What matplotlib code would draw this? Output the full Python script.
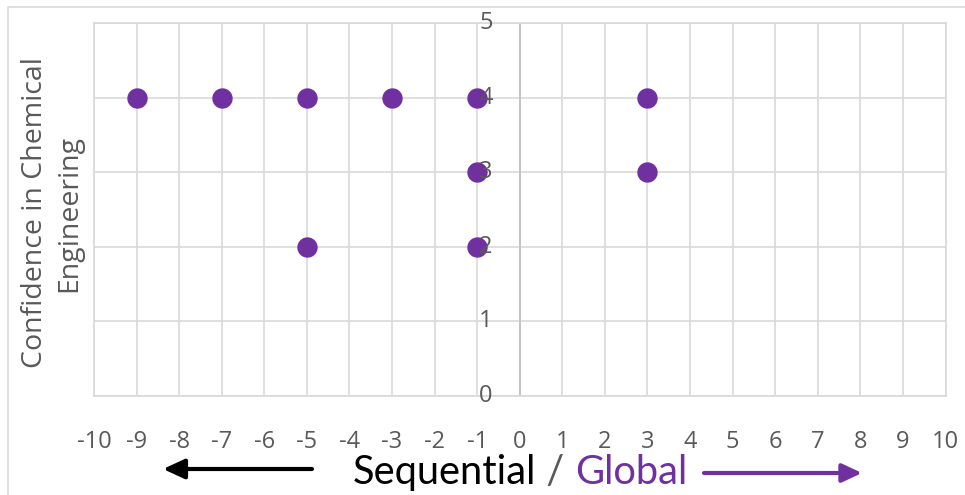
import matplotlib
matplotlib.use("Agg")
import matplotlib.pyplot as plt
from matplotlib.patches import FancyArrowPatch
from matplotlib.lines import Line2D

# --- DATA ---
x_pos = [-9, -7, -5, -3, -1, 3, -1, 3, -5, -1]
confidence = [4, 4, 4, 4, 4, 4, 3, 3, 2, 2]
x_ticks = list(range(-10, 11))
y_ticks = list(range(0, 6))

PURPLE = "#7030A0"
GRID = "#D9D9D9"
LABEL = "#595959"

plt.rcParams['font.family'] = ['Open Sans', 'DejaVu Sans']

fig = plt.figure(figsize=(9.65, 4.95), dpi=100)
ax = fig.add_axes([94 / 965, 1 - 395.5 / 495, 851.5 / 965, 372.5 / 495])

ax.scatter(x_pos, confidence, s=215, color=PURPLE, zorder=3, linewidths=0)

ax.set_xlim(-10, 10)
ax.set_ylim(0, 5)
ax.set_xticks(x_ticks)
ax.set_yticks(y_ticks)
ax.set_xticklabels([str(v) for v in x_ticks])
ax.tick_params(axis="x", length=0, pad=25, labelsize=17, labelcolor=LABEL)
ax.tick_params(axis="y", length=0, labelleft=False)
ax.grid(True, color=GRID, lw=1.2, zorder=0)
ax.set_axisbelow(True)
for sp in ax.spines.values():
    sp.set_color(GRID)
    sp.set_linewidth(1.2)
ax.axvline(0, color="#BFBFBF", lw=1.2, zorder=1)

# y labels sit on the vertical axis at x = 0, above the markers
for v in y_ticks:
    ax.annotate(str(v), xy=(0, v), xytext=(-19.5, 0), textcoords="offset points",
                ha="right", va="center", fontsize=17, color=LABEL, zorder=5,
                annotation_clip=False)

# y axis title
fig.text(52 / 965, 1 - 213 / 495, "Confidence in Chemical\nEngineering", rotation=90,
         ha="center", va="center", multialignment="center", fontsize=20.5,
         color=LABEL, linespacing=1.3)

# x axis title in three colours
t1 = fig.text(353 / 965, 1 - 484 / 495, "Sequential", fontsize=28.7, color="black",
              family=["Lato", "DejaVu Sans"], va="baseline")
t2 = ax.annotate(" / ", xy=(1, 0), xycoords=t1, va="bottom", fontsize=28.7,
                 color=LABEL, family=["Lato", "DejaVu Sans"])
t3 = ax.annotate("Global", xy=(1, 0), xycoords=t2, va="bottom", fontsize=28.7,
                 color=PURPLE, family=["Lato", "DejaVu Sans"])

# direction arrows
arr_left = FancyArrowPatch((312, 495 - 469), (163, 495 - 469), transform=None,
                           arrowstyle="-|>,head_length=0.65,head_width=0.3",
                           mutation_scale=20, lw=3, color="black",
                           shrinkA=0, shrinkB=0)
arr_right = FancyArrowPatch((704, 495 - 473), (862, 495 - 473), transform=None,
                            arrowstyle="-|>,head_length=0.6,head_width=0.28",
                            mutation_scale=20, lw=3, color=PURPLE,
                            shrinkA=0, shrinkB=0)
fig.add_artist(arr_left)
fig.add_artist(arr_right)

# outer chart frame (left and top edges visible)
fig.add_artist(Line2D([8 / 965, 8 / 965, 1.0], [0.0, 1 - 7 / 495, 1 - 7 / 495],
                      transform=fig.transFigure, color=GRID, lw=1.2))

fig.savefig("out.png", dpi=100)
